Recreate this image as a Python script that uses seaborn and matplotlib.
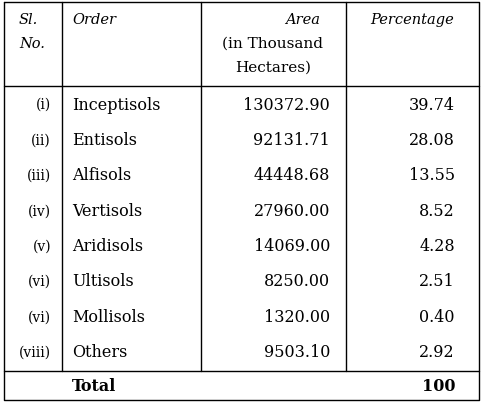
import matplotlib
matplotlib.use("Agg")
import matplotlib.pyplot as plt
import seaborn as sns

# table data
sl_nos = ["(i)", "(ii)", "(iii)", "(iv)", "(v)", "(vi)", "(vi)", "(viii)"]
orders = ["Inceptisols", "Entisols", "Alfisols", "Vertisols", "Aridisols",
          "Ultisols", "Mollisols", "Others"]
areas = ["130372.90", "92131.71", "44448.68", "27960.00", "14069.00",
         "8250.00", "1320.00", "9503.10"]
percentages = ["39.74", "28.08", "13.55", "8.52", "4.28", "2.51", "0.40", "2.92"]
total_label = "Total"
total_pct = "100"

sns.set_theme(style="white")
plt.rcParams['font.family'] = ['DejaVu Serif']
plt.rcParams['text.color'] = 'black'

W, H = 482, 406
fig = plt.figure(figsize=(W / 100, H / 100), dpi=100)
ax = fig.add_axes([0, 0, 1, 1])
ax.set_xlim(0, W)
ax.set_ylim(H, 0)
ax.axis("off")

lw = 1.0
# outer border and grid lines
x0, x1, y0, y1 = 4, 479, 3, 401
ax.plot([x0, x1, x1, x0, x0], [y0, y0, y1, y1, y0], color="black", lw=lw)
for xv in (62, 201, 346):
    ax.plot([xv, xv], [y0, 372], color="black", lw=lw)
ax.plot([x0, x1], [87, 87], color="black", lw=lw)
ax.plot([x0, x1], [372, 372], color="black", lw=lw)

fs = 10.5
hdr = dict(fontsize=fs, style="italic", va="center")
ax.text(19, 20, "Sl.", ha="left", **hdr)
ax.text(19, 44, "No.", ha="left", **hdr)
ax.text(72, 20, "Order", ha="left", **hdr)
ax.text(320, 20, "Area", ha="right", **hdr)
ax.text(273, 44, "(in Thousand", ha="center", va="center", fontsize=fs + 0.5)
ax.text(273, 68, "Hectares)", ha="center", va="center", fontsize=fs + 0.5)
ax.text(412, 20, "Percentage", ha="center", **hdr)

row_y0, row_h = 105, 35.4
for i, (s, o, a, p) in enumerate(zip(sl_nos, orders, areas, percentages)):
    y = row_y0 + i * row_h
    ax.text(51, y, s, ha="right", va="center", fontsize=fs - 0.5)
    ax.text(72, y, o, ha="left", va="center", fontsize=fs + 1)
    ax.text(330, y, a, ha="right", va="center", fontsize=fs + 1)
    ax.text(455, y, p, ha="right", va="center", fontsize=fs + 1)

ax.text(72, 387, total_label, ha="left", va="center", fontsize=fs + 1, weight="bold")
ax.text(455, 387, total_pct, ha="right", va="center", fontsize=fs + 1, weight="bold")

fig.savefig("out.png", dpi=100)
